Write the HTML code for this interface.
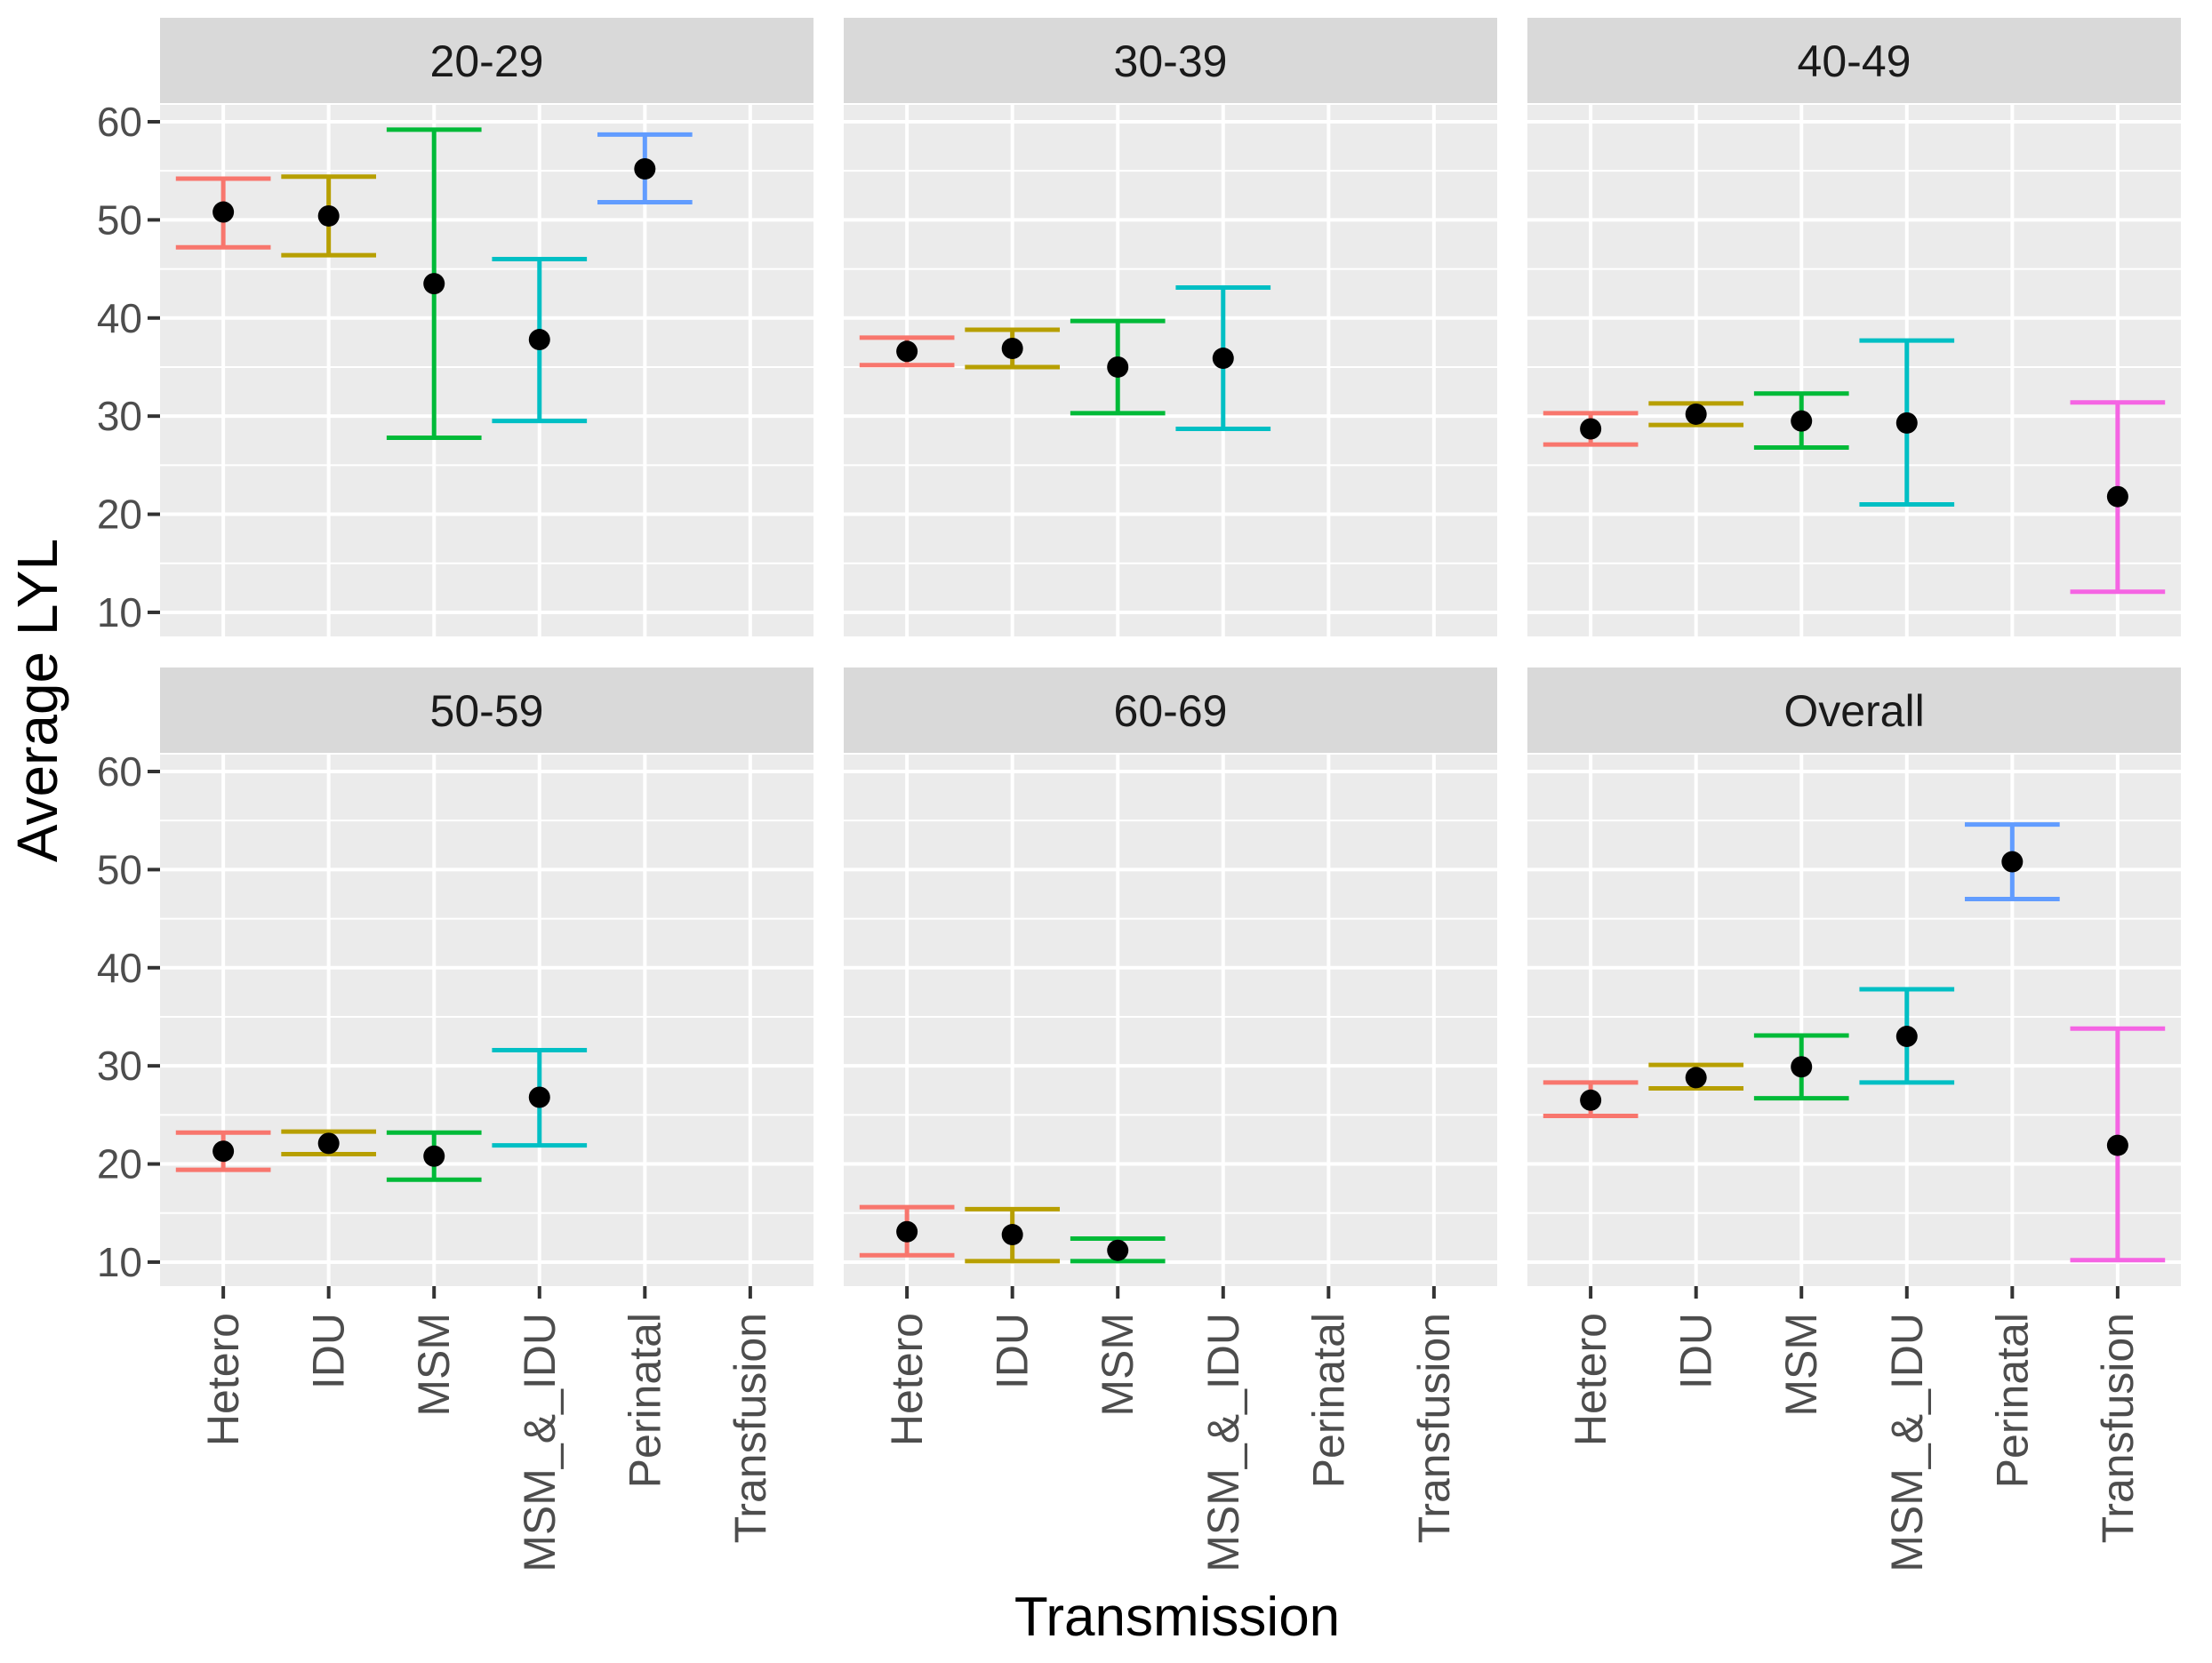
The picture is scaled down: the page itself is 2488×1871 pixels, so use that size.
<!DOCTYPE html>
<html><head><meta charset="utf-8"><style>
html,body{margin:0;padding:0;background:#fff;}
svg{display:block;font-family:"Liberation Sans",Arial,sans-serif;}
</style></head><body>
<svg id="chart" width="2488" height="1871" viewBox="0 0 2488 1871"></svg>
<script>
const panelTitles = ["20-29","30-39","40-49","50-59","60-69","Overall"];
const categories = ["Hetero","IDU","MSM","MSM_&_IDU","Perinatal","Transfusion"];
const colors = ["#F8766D","#B79F00","#00BA38","#00BFC4","#619CFF","#F564E3"];
const yTicks = [10,20,30,40,50,60];
// mean values per panel (null = no data)
const means = [
  [50.8,50.4,43.5,37.8,55.2,null],
  [36.6,36.9,35.0,35.9,null,null],
  [28.7,30.2,29.5,29.3,null,21.8],
  [21.3,22.1,20.8,26.8,null,null],
  [13.1,12.8,11.2,null,null,null],
  [26.5,28.8,29.9,33.0,50.8,21.9]
];
const lowers = [
  [47.2,46.4,27.8,29.5,51.8,null],
  [35.2,35.0,30.3,28.7,null,null],
  [27.1,29.1,26.8,21.0,null,12.1],
  [19.4,21.0,18.4,21.9,null,null],
  [10.7,10.1,10.1,null,null,null],
  [24.9,27.7,26.7,28.3,47.0,10.2]
];
const uppers = [
  [54.2,54.4,59.2,46.0,58.7,null],
  [38.0,38.8,39.7,43.1,null,null],
  [30.3,31.3,32.3,37.7,null,31.4],
  [23.2,23.3,23.2,31.6,null,null],
  [15.6,15.4,12.4,null,null,null],
  [28.3,30.1,33.1,37.8,54.6,33.8]
];

const NS="http://www.w3.org/2000/svg";
const svg=document.getElementById('chart');
function mk(tag,attrs,parent){const e=document.createElementNS(NS,tag);for(const k in attrs)e.setAttribute(k,attrs[k]);(parent||svg).appendChild(e);return e;}

const PW=735, PH=598, SH=96;
const colX=[180,949,1718];
const rowStripY=[20,751];
const yMin=7.55, yMax=61.72;
function yScale(v,top){return top+PH-(v-yMin)/(yMax-yMin)*PH;}
const step=PW/(categories.length-1+1.2);
function xScale(i,left){return left+step*(0.6+i);}

for(let p=0;p<6;p++){
  const r=Math.floor(p/3), c=p%3;
  const left=colX[c], sTop=rowStripY[r], top=sTop+SH+2;
  const g=mk('g',{});
  
  
  const strip=mk('rect',{x:left,y:sTop,width:PW,height:SH,fill:'#D9D9D9'},g);
  
  
  const st=mk('text',{x:left+PW/2,y:sTop+SH/2+18,'text-anchor':'middle','font-size':50,fill:'#1A1A1A'},g);
  st.textContent=panelTitles[p];
  
  
  const bg=mk('rect',{x:left,y:top,width:PW,height:PH,fill:'#EBEBEB'},g);
  
  
  for(let k=0;k<yTicks.length-1;k++){
    const v=(yTicks[k]+yTicks[k+1])/2, y=yScale(v,top);
    mk('line',{x1:left,x2:left+PW,y1:y,y2:y,stroke:'#fff','stroke-width':2},g);
  }
  yTicks.forEach(t=>{const y=yScale(t,top);
    const gl=mk('line',{x1:left,x2:left+PW,y1:y,y2:y,stroke:'#fff','stroke-width':4},g);
    
    
  });
  categories.forEach((cat,i)=>{const x=xScale(i,left);
    const gl=mk('line',{x1:x,x2:x,y1:top,y2:top+PH,stroke:'#fff','stroke-width':4},g);
    
    
  });
  if(c===0){
    yTicks.forEach(t=>{const y=yScale(t,top);
      mk('line',{x1:left-14,x2:left,y1:y,y2:y,stroke:'#333','stroke-width':4},g);
      const tl=mk('text',{x:left-20,y:y+16,'text-anchor':'end','font-size':46,fill:'#4D4D4D'},g);
      tl.textContent=t;
      
      
    });
  }
  if(r===1){
    categories.forEach((cat,i)=>{const x=xScale(i,left);
      mk('line',{x1:x,x2:x,y1:top+PH,y2:top+PH+14,stroke:'#333','stroke-width':4},g);
      const tl=mk('text',{x:0,y:0,'text-anchor':'end','font-size':50,fill:'#4D4D4D',transform:`translate(${x+17},${top+PH+30}) rotate(-90)`},g);
      tl.textContent=cat;
      
      
    });
  }
  categories.forEach((cat,i)=>{
    const m=means[p][i]; if(m==null) return;
    const x=xScale(i,left), hw=step*0.45;
    const yl=yScale(lowers[p][i],top), yu=yScale(uppers[p][i],top), ym=yScale(m,top);
    const eg=mk('g',{stroke:colors[i],'stroke-width':5,fill:'none'},g);
    
    
    mk('line',{x1:x,x2:x,y1:yu,y2:yl},eg);
    mk('line',{x1:x-hw,x2:x+hw,y1:yu,y2:yu},eg);
    mk('line',{x1:x-hw,x2:x+hw,y1:yl,y2:yl},eg);
    const pt=mk('circle',{cx:x,cy:ym,r:12,fill:'#000'},g);
    
    
  });
}
const xt=mk('text',{x:1324,y:1840,'text-anchor':'middle','font-size':62,fill:'#000'});
xt.textContent='Transmission';


const yt=mk('text',{x:0,y:0,'text-anchor':'middle','font-size':64,fill:'#000',transform:'translate(64,788) rotate(-90)'});
yt.textContent='Average LYL';


</script>
</body></html>
